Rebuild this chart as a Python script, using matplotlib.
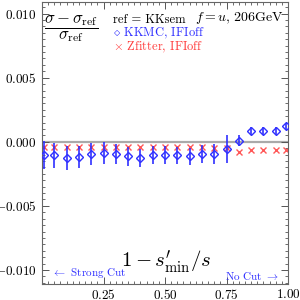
import matplotlib
matplotlib.use("Agg")
import matplotlib.pyplot as plt
from matplotlib.ticker import MultipleLocator

plt.rcParams.update({
    "font.family": "serif",
    "font.serif": ["cmr10", "DejaVu Serif"],
    "mathtext.fontset": "cm",
    "axes.formatter.use_mathtext": True,
    "axes.unicode_minus": True,
})

# cut values 1 - s'_min/s
vmin = [0.01, 0.05, 0.10, 0.15, 0.20, 0.25, 0.30, 0.35, 0.40, 0.45, 0.50,
        0.55, 0.60, 0.65, 0.70, 0.75, 0.80, 0.85, 0.90, 0.95, 0.99]
# KKMC, IFIoff relative to KKsem
kkmc = [-0.00100, -0.00106, -0.00126, -0.00116, -0.00095, -0.00088, -0.00095,
        -0.00114, -0.00126, -0.00100, -0.00106, -0.00106, -0.00114, -0.00095,
        -0.00095, -0.00057, 0.00010, 0.00085, 0.00085, 0.00085, 0.00120]
kkmc_err = [0.00110, 0.00100, 0.00090, 0.00085, 0.00085, 0.00083, 0.00077,
            0.00072, 0.00068, 0.00070, 0.00070, 0.00068, 0.00065, 0.00070,
            0.00075, 0.00110, 0.00045, 0.00030, 0.00030, 0.00030, 0.00030]
# Zfitter, IFIoff relative to KKsem
zfit = [-0.00044, -0.00044, -0.00044, -0.00044, -0.00044, -0.00044, -0.00044,
        -0.00044, -0.00044, -0.00044, -0.00044, -0.00044, -0.00044, -0.00044,
        -0.00046, -0.00046, -0.00080, -0.00060, -0.00060, -0.00060, -0.00060]

yticks = [-0.010, -0.005, 0.000, 0.005, 0.010]
ytick_labels = ["$-0.010$", "$-0.005$", "$0.000$", "$0.005$", "$0.010$"]
xticks = [0.25, 0.50, 0.75, 1.00]
xtick_labels = ["$0.25$", "$0.50$", "$0.75$", "$1.00$"]

BLUE = "#3030ff"
RED = "#ff3a3a"

fig = plt.figure(figsize=(3, 3), dpi=100)
ax = fig.add_axes([0.14, 0.053, 0.82, 0.94])

ax.axhline(0.0, color="#aaaaaa", linewidth=1.6, zorder=1)
ax.errorbar(vmin, kkmc, yerr=kkmc_err, fmt="D", color=BLUE, mfc="none",
            ms=4, mew=1.0, elinewidth=1.2, capsize=0, zorder=3)
ax.plot(vmin, zfit, "x", color=RED, ms=5, mew=1.0, zorder=2, alpha=0.85)

ax.set_xlim(0.0, 1.0)
ax.set_ylim(-0.0111, 0.0109)
ax.set_xticks(xticks)
ax.set_xticklabels(xtick_labels)
ax.set_yticks(yticks)
ax.set_yticklabels(ytick_labels)
ax.xaxis.set_minor_locator(MultipleLocator(0.025))
ax.yaxis.set_minor_locator(MultipleLocator(0.0005))
ax.tick_params(which="both", direction="in", top=True, right=True,
               labelsize=9.5, color="#555555")
ax.tick_params(which="major", length=5, width=0.7)
ax.tick_params(which="minor", length=2.5, width=0.6)
ax.tick_params(axis="y", pad=4)
ax.tick_params(axis="x", pad=2.5)
for sp in ax.spines.values():
    sp.set_color("#666666")
    sp.set_linewidth(0.8)

ax.text(0.12, 0.905, r"$\dfrac{\sigma-\sigma_{\rm ref}}{\sigma_{\rm ref}}$",
        transform=ax.transAxes, fontsize=12, ha="center", va="center")
ax.text(0.29, 0.937, "ref = KKsem", transform=ax.transAxes, fontsize=9,
        ha="left", va="center")
ax.text(0.29, 0.890, r"$\diamond$ KKMC, IFIoff", transform=ax.transAxes,
        fontsize=9, ha="left", va="center", color=BLUE)
ax.text(0.29, 0.840, r"$\times$ Zfitter, IFIoff", transform=ax.transAxes,
        fontsize=9, ha="left", va="center", color=RED)
ax.text(0.984, 0.945, r"$f=u$, 206GeV", transform=ax.transAxes,
        fontsize=10, ha="right", va="center")
ax.text(0.505, 0.08, r"$1-s^{\prime}_{\rm min}/s$", transform=ax.transAxes,
        fontsize=15, ha="center", va="center")
ax.text(0.04, 0.04, r"$\leftarrow$ Strong Cut", transform=ax.transAxes,
        fontsize=8, ha="left", va="center", color=BLUE)
ax.text(0.744, 0.028, r"No Cut $\rightarrow$", transform=ax.transAxes,
        fontsize=8, ha="left", va="center", color=BLUE)

fig.savefig("out.png", dpi=100)
